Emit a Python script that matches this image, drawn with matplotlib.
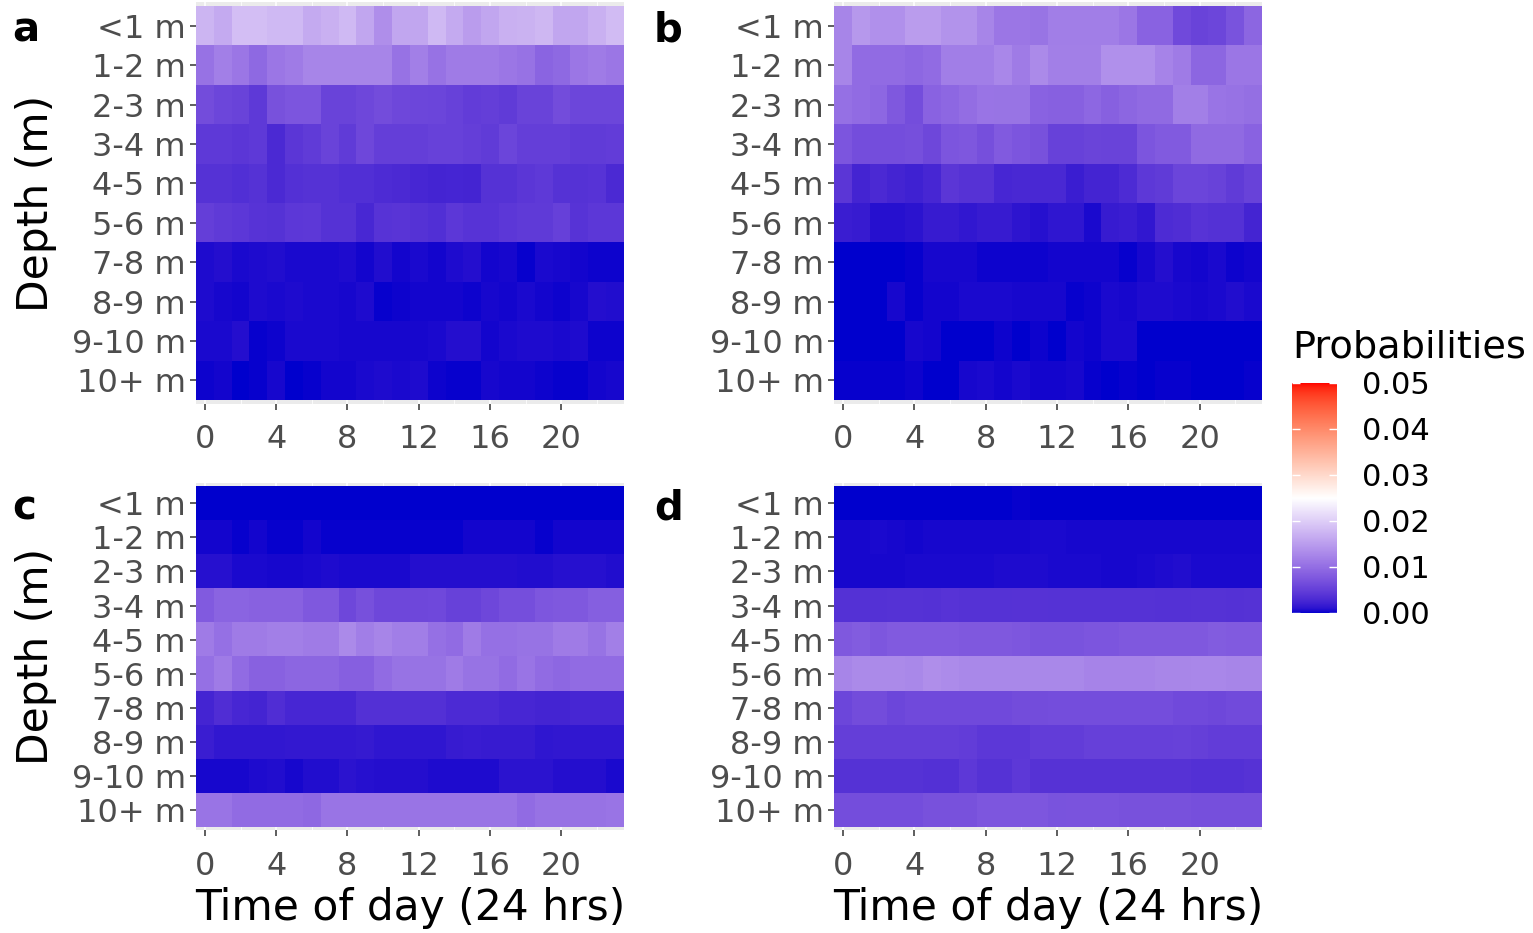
import numpy as np
import matplotlib
matplotlib.use("Agg")
import matplotlib.pyplot as plt
from matplotlib.colors import ListedColormap, Normalize
from matplotlib.cm import ScalarMappable

# ---------------------------------------------------------------- data
hours = list(range(24))
depth_labels = ["<1 m", "1-2 m", "2-3 m", "3-4 m", "4-5 m", "5-6 m",
                "7-8 m", "8-9 m", "9-10 m", "10+ m"]
panel_letters = ["a", "b", "c", "d"]

probs_a = [
    [0.0175, 0.0165, 0.0185, 0.0185, 0.0180, 0.0180, 0.0165, 0.0170, 0.0180, 0.0160, 0.0135, 0.0160,
     0.0160, 0.0180, 0.0165, 0.0150, 0.0160, 0.0170, 0.0172, 0.0178, 0.0160, 0.0160, 0.0170, 0.0182],
    [0.0105, 0.0120, 0.0110, 0.0095, 0.0110, 0.0115, 0.0125, 0.0125, 0.0125, 0.0125, 0.0125, 0.0105,
     0.0120, 0.0105, 0.0115, 0.0115, 0.0115, 0.0110, 0.0105, 0.0090, 0.0095, 0.0110, 0.0115, 0.0110],
    [0.0065, 0.0058, 0.0055, 0.0045, 0.0070, 0.0075, 0.0075, 0.0055, 0.0055, 0.0060, 0.0065, 0.0060,
     0.0058, 0.0057, 0.0053, 0.0048, 0.0050, 0.0047, 0.0055, 0.0055, 0.0065, 0.0058, 0.0058, 0.0058],
    [0.0045, 0.0045, 0.0042, 0.0045, 0.0030, 0.0042, 0.0047, 0.0055, 0.0047, 0.0060, 0.0050, 0.0050,
     0.0050, 0.0053, 0.0053, 0.0050, 0.0047, 0.0057, 0.0050, 0.0050, 0.0050, 0.0047, 0.0047, 0.0048],
    [0.0038, 0.0038, 0.0035, 0.0038, 0.0030, 0.0036, 0.0038, 0.0038, 0.0035, 0.0035, 0.0032, 0.0030,
     0.0027, 0.0025, 0.0026, 0.0025, 0.0038, 0.0038, 0.0042, 0.0045, 0.0038, 0.0038, 0.0040, 0.0030],
    [0.0050, 0.0046, 0.0043, 0.0040, 0.0038, 0.0043, 0.0044, 0.0038, 0.0038, 0.0028, 0.0040, 0.0041,
     0.0038, 0.0035, 0.0043, 0.0040, 0.0040, 0.0043, 0.0046, 0.0046, 0.0052, 0.0040, 0.0043, 0.0043],
    [0.0006, 0.0008, 0.0005, 0.0006, 0.0007, 0.0005, 0.0005, 0.0005, 0.0006, 0.0003, 0.0007, 0.0003,
     0.0005, 0.0003, 0.0006, 0.0008, 0.0003, 0.0004, 0.0001, 0.0005, 0.0004, 0.0003, 0.0002, 0.0002],
    [0.0006, 0.0004, 0.0003, 0.0006, 0.0005, 0.0006, 0.0005, 0.0005, 0.0004, 0.0006, 0.0001, 0.0002,
     0.0003, 0.0003, 0.0003, 0.0002, 0.0004, 0.0003, 0.0005, 0.0003, 0.0002, 0.0004, 0.0008, 0.0007],
    [0.0005, 0.0005, 0.0008, 0.0001, 0.0002, 0.0005, 0.0005, 0.0005, 0.0004, 0.0004, 0.0004, 0.0004,
     0.0004, 0.0005, 0.0008, 0.0008, 0.0003, 0.0005, 0.0006, 0.0006, 0.0005, 0.0006, 0.0002, 0.0002],
    [0.0002, 0.0003, 0.0000, 0.0001, 0.0004, 0.0000, 0.0001, 0.0003, 0.0003, 0.0005, 0.0006, 0.0005,
     0.0006, 0.0002, 0.0001, 0.0001, 0.0004, 0.0003, 0.0003, 0.0002, 0.0001, 0.0001, 0.0003, 0.0004],
]

probs_b = [
    [0.0125, 0.0145, 0.0137, 0.0137, 0.0150, 0.0150, 0.0140, 0.0140, 0.0125, 0.0110, 0.0110, 0.0107,
     0.0118, 0.0118, 0.0118, 0.0118, 0.0110, 0.0088, 0.0088, 0.0062, 0.0055, 0.0058, 0.0072, 0.0092],
    [0.0125, 0.0098, 0.0098, 0.0098, 0.0093, 0.0098, 0.0118, 0.0118, 0.0118, 0.0127, 0.0115, 0.0130,
     0.0120, 0.0120, 0.0120, 0.0137, 0.0137, 0.0137, 0.0124, 0.0115, 0.0092, 0.0092, 0.0110, 0.0110],
    [0.0103, 0.0098, 0.0093, 0.0078, 0.0066, 0.0088, 0.0093, 0.0100, 0.0108, 0.0107, 0.0107, 0.0088,
     0.0086, 0.0086, 0.0093, 0.0086, 0.0092, 0.0097, 0.0097, 0.0120, 0.0120, 0.0108, 0.0105, 0.0102],
    [0.0075, 0.0066, 0.0066, 0.0066, 0.0068, 0.0060, 0.0075, 0.0077, 0.0068, 0.0080, 0.0075, 0.0070,
     0.0053, 0.0053, 0.0056, 0.0055, 0.0055, 0.0075, 0.0080, 0.0080, 0.0097, 0.0097, 0.0097, 0.0088],
    [0.0042, 0.0025, 0.0030, 0.0025, 0.0022, 0.0027, 0.0042, 0.0039, 0.0039, 0.0027, 0.0029, 0.0029,
     0.0029, 0.0019, 0.0025, 0.0025, 0.0032, 0.0044, 0.0047, 0.0057, 0.0057, 0.0054, 0.0047, 0.0054],
    [0.0019, 0.0017, 0.0009, 0.0009, 0.0011, 0.0017, 0.0017, 0.0014, 0.0017, 0.0017, 0.0012, 0.0009,
     0.0013, 0.0013, 0.0005, 0.0017, 0.0019, 0.0014, 0.0032, 0.0034, 0.0040, 0.0037, 0.0037, 0.0025],
    [0.0000, 0.0000, 0.0000, 0.0000, 0.0001, 0.0004, 0.0004, 0.0004, 0.0002, 0.0002, 0.0002, 0.0002,
     0.0003, 0.0003, 0.0003, 0.0003, 0.0001, 0.0004, 0.0008, 0.0004, 0.0003, 0.0005, 0.0002, 0.0003],
    [0.0000, 0.0000, 0.0000, 0.0004, 0.0001, 0.0003, 0.0003, 0.0005, 0.0005, 0.0005, 0.0004, 0.0004,
     0.0004, 0.0001, 0.0002, 0.0005, 0.0004, 0.0006, 0.0006, 0.0005, 0.0004, 0.0005, 0.0007, 0.0005],
    [0.0000, 0.0000, 0.0000, 0.0000, 0.0004, 0.0003, 0.0000, 0.0000, 0.0000, 0.0002, 0.0000, 0.0002,
     0.0000, 0.0003, 0.0002, 0.0005, 0.0005, 0.0000, 0.0000, 0.0000, 0.0000, 0.0000, 0.0000, 0.0000],
    [0.0001, 0.0001, 0.0001, 0.0001, 0.0002, 0.0000, 0.0000, 0.0004, 0.0005, 0.0003, 0.0005, 0.0003,
     0.0003, 0.0004, 0.0001, 0.0000, 0.0001, 0.0000, 0.0001, 0.0001, 0.0000, 0.0000, 0.0000, 0.0001],
]

probs_c = [
    [0.0000, 0.0000, 0.0000, 0.0000, 0.0000, 0.0000, 0.0000, 0.0000, 0.0000, 0.0000, 0.0000, 0.0000,
     0.0000, 0.0000, 0.0000, 0.0000, 0.0000, 0.0000, 0.0000, 0.0000, 0.0000, 0.0000, 0.0000, 0.0000],
    [0.0003, 0.0003, 0.0001, 0.0003, 0.0001, 0.0001, 0.0003, 0.0001, 0.0001, 0.0001, 0.0001, 0.0001,
     0.0001, 0.0001, 0.0001, 0.0003, 0.0003, 0.0003, 0.0003, 0.0001, 0.0003, 0.0003, 0.0003, 0.0003],
    [0.0009, 0.0009, 0.0005, 0.0005, 0.0004, 0.0004, 0.0005, 0.0006, 0.0005, 0.0005, 0.0005, 0.0005,
     0.0008, 0.0008, 0.0008, 0.0008, 0.0008, 0.0008, 0.0007, 0.0007, 0.0009, 0.0009, 0.0009, 0.0007],
    [0.0080, 0.0090, 0.0090, 0.0087, 0.0087, 0.0087, 0.0078, 0.0078, 0.0060, 0.0069, 0.0060, 0.0060,
     0.0060, 0.0061, 0.0053, 0.0053, 0.0060, 0.0067, 0.0067, 0.0076, 0.0078, 0.0078, 0.0084, 0.0084],
    [0.0115, 0.0103, 0.0115, 0.0115, 0.0120, 0.0120, 0.0115, 0.0115, 0.0130, 0.0118, 0.0125, 0.0118,
     0.0118, 0.0103, 0.0098, 0.0115, 0.0103, 0.0103, 0.0106, 0.0106, 0.0115, 0.0115, 0.0106, 0.0120],
    [0.0103, 0.0115, 0.0098, 0.0087, 0.0087, 0.0092, 0.0092, 0.0092, 0.0085, 0.0085, 0.0098, 0.0106,
     0.0106, 0.0106, 0.0115, 0.0106, 0.0106, 0.0098, 0.0108, 0.0098, 0.0093, 0.0098, 0.0098, 0.0098],
    [0.0025, 0.0034, 0.0027, 0.0025, 0.0034, 0.0027, 0.0027, 0.0027, 0.0027, 0.0036, 0.0036, 0.0036,
     0.0036, 0.0036, 0.0031, 0.0031, 0.0031, 0.0027, 0.0027, 0.0025, 0.0025, 0.0027, 0.0027, 0.0027],
    [0.0019, 0.0014, 0.0014, 0.0014, 0.0014, 0.0015, 0.0015, 0.0015, 0.0015, 0.0016, 0.0013, 0.0013,
     0.0013, 0.0013, 0.0017, 0.0018, 0.0017, 0.0017, 0.0017, 0.0013, 0.0014, 0.0014, 0.0014, 0.0014],
    [0.0004, 0.0004, 0.0004, 0.0006, 0.0007, 0.0004, 0.0007, 0.0007, 0.0011, 0.0009, 0.0008, 0.0008,
     0.0008, 0.0006, 0.0006, 0.0006, 0.0006, 0.0011, 0.0011, 0.0011, 0.0008, 0.0008, 0.0008, 0.0005],
    [0.0108, 0.0108, 0.0098, 0.0098, 0.0098, 0.0098, 0.0094, 0.0108, 0.0108, 0.0108, 0.0108, 0.0108,
     0.0108, 0.0108, 0.0108, 0.0108, 0.0108, 0.0108, 0.0098, 0.0105, 0.0105, 0.0105, 0.0105, 0.0108],
]

probs_d = [
    [0.0000, 0.0000, 0.0000, 0.0000, 0.0000, 0.0000, 0.0000, 0.0000, 0.0000, 0.0000, 0.0001, 0.0000,
     0.0000, 0.0000, 0.0000, 0.0000, 0.0000, 0.0000, 0.0000, 0.0000, 0.0000, 0.0000, 0.0000, 0.0000],
    [0.0004, 0.0004, 0.0005, 0.0004, 0.0003, 0.0004, 0.0004, 0.0004, 0.0004, 0.0004, 0.0004, 0.0005,
     0.0005, 0.0004, 0.0004, 0.0004, 0.0004, 0.0004, 0.0004, 0.0004, 0.0004, 0.0004, 0.0004, 0.0004],
    [0.0004, 0.0004, 0.0004, 0.0004, 0.0005, 0.0005, 0.0005, 0.0005, 0.0005, 0.0006, 0.0006, 0.0006,
     0.0005, 0.0005, 0.0005, 0.0004, 0.0004, 0.0005, 0.0006, 0.0007, 0.0005, 0.0005, 0.0005, 0.0005],
    [0.0037, 0.0037, 0.0037, 0.0038, 0.0038, 0.0037, 0.0040, 0.0038, 0.0038, 0.0038, 0.0039, 0.0039,
     0.0038, 0.0038, 0.0038, 0.0038, 0.0038, 0.0038, 0.0037, 0.0037, 0.0038, 0.0038, 0.0037, 0.0038],
    [0.0078, 0.0082, 0.0076, 0.0080, 0.0080, 0.0080, 0.0080, 0.0078, 0.0078, 0.0078, 0.0076, 0.0072,
     0.0072, 0.0072, 0.0075, 0.0075, 0.0078, 0.0078, 0.0078, 0.0078, 0.0078, 0.0082, 0.0080, 0.0080],
    [0.0125, 0.0130, 0.0130, 0.0130, 0.0128, 0.0135, 0.0132, 0.0128, 0.0128, 0.0128, 0.0128, 0.0128,
     0.0128, 0.0128, 0.0124, 0.0124, 0.0124, 0.0124, 0.0126, 0.0126, 0.0127, 0.0127, 0.0125, 0.0125],
    [0.0058, 0.0065, 0.0065, 0.0058, 0.0062, 0.0062, 0.0062, 0.0062, 0.0062, 0.0062, 0.0065, 0.0065,
     0.0066, 0.0066, 0.0066, 0.0066, 0.0066, 0.0066, 0.0066, 0.0062, 0.0062, 0.0060, 0.0063, 0.0063],
    [0.0050, 0.0050, 0.0050, 0.0050, 0.0050, 0.0050, 0.0050, 0.0048, 0.0043, 0.0043, 0.0043, 0.0048,
     0.0048, 0.0048, 0.0052, 0.0052, 0.0052, 0.0052, 0.0052, 0.0053, 0.0051, 0.0048, 0.0048, 0.0048],
    [0.0038, 0.0038, 0.0038, 0.0038, 0.0038, 0.0036, 0.0036, 0.0044, 0.0038, 0.0038, 0.0044, 0.0039,
     0.0039, 0.0039, 0.0039, 0.0039, 0.0039, 0.0039, 0.0039, 0.0039, 0.0036, 0.0036, 0.0036, 0.0039],
    [0.0066, 0.0066, 0.0066, 0.0066, 0.0066, 0.0070, 0.0070, 0.0070, 0.0076, 0.0076, 0.0076, 0.0076,
     0.0072, 0.0073, 0.0073, 0.0073, 0.0070, 0.0070, 0.0070, 0.0070, 0.0068, 0.0068, 0.0068, 0.0068],
]

x_breaks = [0, 4, 8, 12, 16, 20]
legend_breaks = [0.00, 0.01, 0.02, 0.03, 0.04, 0.05]
prob_limits = (0.0, 0.05)

# ---------------------------------------------------------------- diverging palette, interpolated in CIE Lab
_M = np.array([[0.4124564, 0.3575761, 0.1804375],
               [0.2126729, 0.7151522, 0.0721750],
               [0.0193339, 0.1191920, 0.9503041]])
_WHITE = np.array([0.95047, 1.0, 1.08883])


def srgb_to_lab(rgb):
    c = np.asarray(rgb, float)
    lin = np.where(c <= 0.04045, c / 12.92, ((c + 0.055) / 1.055) ** 2.4)
    t = (_M @ lin) / _WHITE
    d = 6 / 29
    f = np.where(t > d ** 3, np.cbrt(t), t / (3 * d * d) + 4 / 29)
    return np.array([116 * f[1] - 16, 500 * (f[0] - f[1]), 200 * (f[1] - f[2])])


def lab_to_srgb(lab):
    L, a, b = lab
    fy = (L + 16) / 116
    f = np.array([fy + a / 500, fy, fy - b / 200])
    d = 6 / 29
    t = np.where(f > d, f ** 3, 3 * d * d * (f - 4 / 29)) * _WHITE
    lin = np.linalg.solve(_M, t)
    lin = np.clip(lin, 0, 1)
    c = np.where(lin <= 0.0031308, 12.92 * lin, 1.055 * lin ** (1 / 2.4) - 0.055)
    return np.clip(c, 0, 1)


low = srgb_to_lab([0, 0, 205 / 255])
mid = srgb_to_lab([1, 1, 1])
high = srgb_to_lab([1, 0, 0])
colors = []
for s in np.linspace(0, 1, 512):
    if s <= 0.5:
        lab = low + (mid - low) * (s / 0.5)
    else:
        lab = mid + (high - mid) * ((s - 0.5) / 0.5)
    colors.append(lab_to_srgb(lab))
cmap = ListedColormap(colors)
norm = Normalize(*prob_limits)

# ---------------------------------------------------------------- figure
plt.rcParams["font.family"] = "DejaVu Sans"
W, H = 1533, 933
fig = plt.figure(figsize=(W / 100, H / 100), dpi=100)
fig.patch.set_facecolor("white")


def px_rect(l, t, r, b):
    return [l / W, 1 - b / H, (r - l) / W, (b - t) / H]


panel_rects = [(196, 2.4, 623.5, 403.9), (834, 2.4, 1262, 403.9),
               (196, 482.9, 623.5, 830.4), (834, 482.9, 1262, 830.4)]
panel_data = [probs_a, probs_b, probs_c, probs_d]
letter_pos = [(12, 41), (654, 41), (12, 519), (654, 519)]

for i, (rect, data) in enumerate(zip(panel_rects, panel_data)):
    ax = fig.add_axes(px_rect(*rect))
    ax.set_facecolor("#EBEBEB")
    arr = np.array(data)
    ax.imshow(arr, cmap=cmap, norm=norm, aspect="auto", interpolation="nearest",
              extent=(hours[0] - 0.5, hours[-1] + 0.5, len(depth_labels) - 0.5, -0.5),
              zorder=2)
    ax.set_xlim(hours[0] - 0.5, hours[-1] + 0.5)
    ax.set_ylim(len(depth_labels) - 0.4, -0.6)
    ax.set_xticks(x_breaks)
    ax.set_xticks([b + 2 for b in x_breaks], minor=True)
    ax.set_yticks(range(len(depth_labels)))
    ax.set_yticklabels(depth_labels)
    ax.grid(True, which="major", color="white", linewidth=1.1, zorder=1)
    ax.grid(True, which="minor", axis="x", color="white", linewidth=0.55, zorder=1)
    ax.set_axisbelow(True)
    for sp in ax.spines.values():
        sp.set_visible(False)
    ax.tick_params(axis="both", which="major", length=4.3, width=1.1, color="#333333",
                   labelcolor="#4D4D4D", labelsize=23)
    ax.tick_params(axis="y", which="major", pad=3.0)
    ax.tick_params(axis="x", which="major", pad=10.5)
    ax.tick_params(which="minor", length=0)

    if i in (0, 2):
        ax.set_ylabel("Depth (m)", fontsize=30.5, color="black")
        cy = (rect[1] + rect[3]) / 2
        ax.yaxis.set_label_coords(57 / W, 1 - cy / H, transform=fig.transFigure)
    if i in (2, 3):
        ax.set_xlabel("Time of day (24 hrs)", fontsize=30.5, color="black")
        cx = (rect[0] + rect[2]) / 2
        ax.xaxis.set_label_coords(cx / W, 1 - 887 / H, transform=fig.transFigure)

    lx, ly = letter_pos[i]
    fig.text(lx / W, 1 - ly / H, panel_letters[i], fontsize=29, fontweight="bold",
             ha="left", va="baseline", color="black")

# ---------------------------------------------------------------- colour bar legend
cax = fig.add_axes(px_rect(1292, 383, 1337, 613))
cb = fig.colorbar(ScalarMappable(norm=norm, cmap=cmap), cax=cax)
cb.outline.set_visible(False)
cb.set_ticks(legend_breaks)
cb.set_ticklabels([f"{v:.2f}" for v in legend_breaks])
cax.tick_params(length=0, pad=18, labelsize=22, labelcolor="black")
ytr = cax.get_yaxis_transform()
cax.hlines(legend_breaks, 0, 0.18, transform=ytr, colors="white", linewidth=1.0)
cax.hlines(legend_breaks, 0.82, 1.0, transform=ytr, colors="white", linewidth=1.0)
fig.text(1292 / W, 1 - 357 / H, "Probabilities", fontsize=27.5, ha="left",
         va="baseline", color="black")

fig.savefig("out.png", dpi=100, facecolor="white")
